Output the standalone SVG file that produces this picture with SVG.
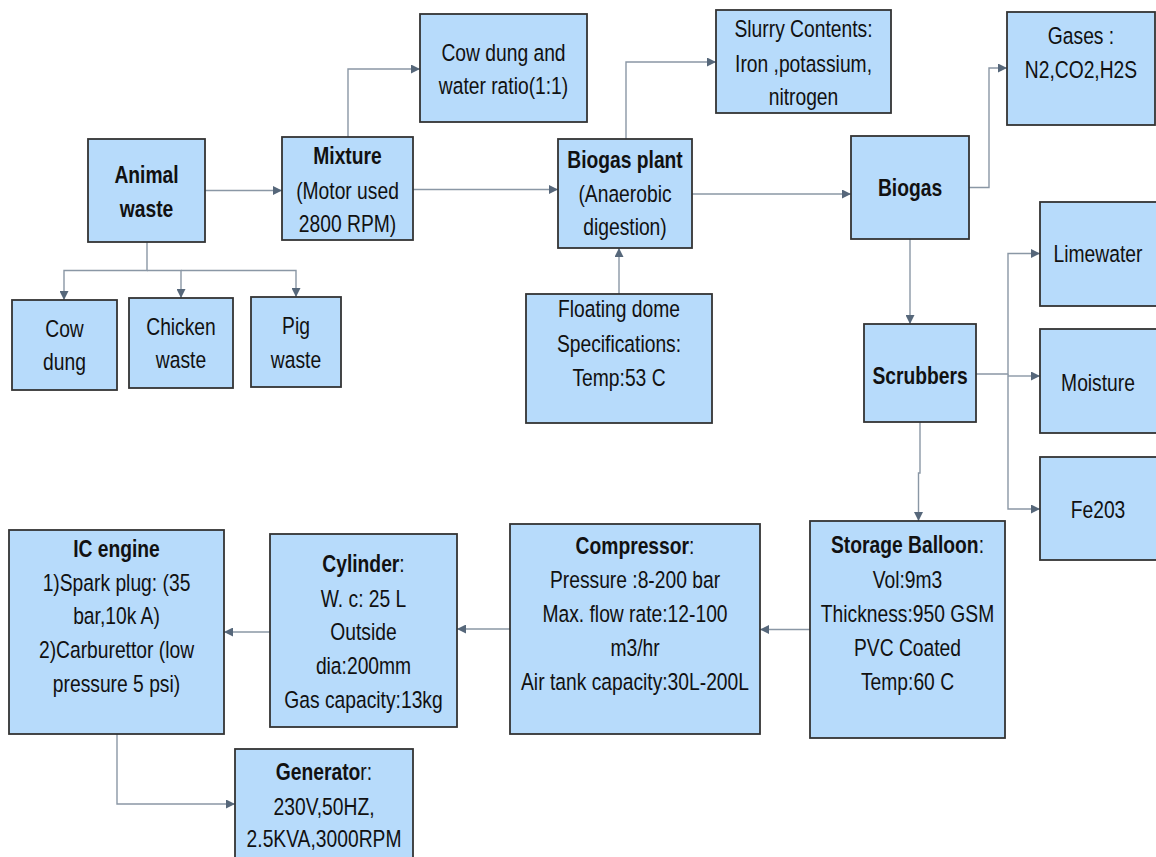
<svg xmlns="http://www.w3.org/2000/svg" width="1156" height="857" viewBox="0 0 1156 857">
<style>
.box{fill:#b7dbfb;stroke:#333333;stroke-width:1.8}
.t{font-family:"Liberation Sans",Arial,sans-serif;font-size:23.5px;fill:#111;text-anchor:middle}
.b{font-weight:bold}
.c{fill:none;stroke:#8a97a5;stroke-width:1.4}
</style>
<defs>
<marker id="ah" viewBox="0 0 10 10" refX="10" refY="5" markerWidth="9" markerHeight="9" markerUnits="userSpaceOnUse" orient="auto">
<path d="M0,0 L10,5 L0,10 z" fill="#56677a"/>
</marker>
</defs>
<rect width="1156" height="857" fill="#ffffff"/>
<g id="connectors">
<path class="c" d="M205,190.5 H282" marker-end="url(#ah)"/>
<path class="c" d="M147,242 V270.5 H64 V300" marker-end="url(#ah)"/>
<path class="c" d="M147,270.5 H181 V298" marker-end="url(#ah)"/>
<path class="c" d="M181,270.5 H296 V297" marker-end="url(#ah)"/>
<path class="c" d="M348,137 V69 H420" marker-end="url(#ah)"/>
<path class="c" d="M413,189.5 H558" marker-end="url(#ah)"/>
<path class="c" d="M626,139 V62 H716" marker-end="url(#ah)"/>
<path class="c" d="M619,294 V248" marker-end="url(#ah)"/>
<path class="c" d="M692,194 H851" marker-end="url(#ah)"/>
<path class="c" d="M969,187.5 H989 V68 H1007" marker-end="url(#ah)"/>
<path class="c" d="M910,239 V324" marker-end="url(#ah)"/>
<path class="c" d="M976,374 H1008 V253.5 H1040" marker-end="url(#ah)"/>
<path class="c" d="M1008,376 H1040" marker-end="url(#ah)"/>
<path class="c" d="M1008,374 V509 H1040" marker-end="url(#ah)"/>
<path class="c" d="M920,422 V473 H918.5 V521" marker-end="url(#ah)"/>
<path class="c" d="M810,629.5 H760" marker-end="url(#ah)"/>
<path class="c" d="M510,629 H457" marker-end="url(#ah)"/>
<path class="c" d="M275,632 H224" marker-end="url(#ah)"/>
<path class="c" d="M117,734 V804 H235" marker-end="url(#ah)"/>
</g>
<g id="animal-waste"><rect class="box" x="88" y="139" width="117" height="103"/>
<g transform="translate(146.5 0) scale(0.82 1)"><text class="t b" x="0" y="183">Animal</text><text class="t b" x="0" y="217">waste</text></g></g>
<g id="mixture"><rect class="box" x="282" y="137" width="131" height="103"/>
<g transform="translate(347.5 0) scale(0.82 1)"><text class="t b" x="0" y="164">Mixture</text><text class="t" x="0" y="199">(Motor used</text><text class="t" x="0" y="232">2800 RPM)</text></g></g>
<g id="cow-dung"><rect class="box" x="12" y="300" width="105" height="90"/>
<g transform="translate(64.5 0) scale(0.82 1)"><text class="t" x="0" y="337">Cow</text><text class="t" x="0" y="370">dung</text></g></g>
<g id="chicken-waste"><rect class="box" x="129" y="298" width="104" height="90"/>
<g transform="translate(181 0) scale(0.82 1)"><text class="t" x="0" y="335">Chicken</text><text class="t" x="0" y="368">waste</text></g></g>
<g id="pig-waste"><rect class="box" x="251" y="297" width="90" height="90"/>
<g transform="translate(296 0) scale(0.82 1)"><text class="t" x="0" y="334">Pig</text><text class="t" x="0" y="368">waste</text></g></g>
<g id="cow-dung-water"><rect class="box" x="420" y="14" width="167" height="108"/>
<g transform="translate(503.5 0) scale(0.82 1)"><text class="t" x="0" y="61">Cow dung and</text><text class="t" x="0" y="94">water ratio(1:1)</text></g></g>
<g id="biogas-plant"><rect class="box" x="558" y="139" width="134" height="109"/>
<g transform="translate(625 0) scale(0.82 1)"><text class="t b" x="0" y="168">Biogas plant</text><text class="t" x="0" y="202">(Anaerobic</text><text class="t" x="0" y="235">digestion)</text></g></g>
<g id="floating-dome"><rect class="box" x="526" y="294" width="186" height="129"/>
<g transform="translate(619 0) scale(0.82 1)"><text class="t" x="0" y="317">Floating dome</text><text class="t" x="0" y="352">Specifications:</text><text class="t" x="0" y="386">Temp:53 C</text></g></g>
<g id="slurry"><rect class="box" x="716" y="10" width="175" height="103"/>
<g transform="translate(803.5 0) scale(0.82 1)"><text class="t" x="0" y="37.5">Slurry Contents:</text><text class="t" x="0" y="72">Iron ,potassium,</text><text class="t" x="0" y="105">nitrogen</text></g></g>
<g id="gases"><rect class="box" x="1007" y="12" width="148" height="113"/>
<g transform="translate(1081 0) scale(0.82 1)"><text class="t" x="0" y="44">Gases :</text><text class="t" x="0" y="78">N2,CO2,H2S</text></g></g>
<g id="biogas"><rect class="box" x="851" y="136" width="118" height="103"/>
<g transform="translate(910 0) scale(0.82 1)"><text class="t b" x="0" y="196">Biogas</text></g></g>
<g id="scrubbers"><rect class="box" x="864" y="324" width="112" height="98"/>
<g transform="translate(920 0) scale(0.82 1)"><text class="t b" x="0" y="384">Scrubbers</text></g></g>
<g id="limewater"><rect class="box" x="1040" y="202" width="120" height="104"/>
<g transform="translate(1098 0) scale(0.82 1)"><text class="t" x="0" y="262">Limewater</text></g></g>
<g id="moisture"><rect class="box" x="1040" y="329" width="120" height="104"/>
<g transform="translate(1098 0) scale(0.82 1)"><text class="t" x="0" y="391">Moisture</text></g></g>
<g id="fe203"><rect class="box" x="1040" y="457" width="120" height="103"/>
<g transform="translate(1098 0) scale(0.82 1)"><text class="t" x="0" y="518">Fe203</text></g></g>
<g id="storage-balloon"><rect class="box" x="810" y="521" width="195" height="217"/>
<g transform="translate(907.5 0) scale(0.82 1)"><text class="t" x="0" y="553"><tspan class="b">Storage Balloon</tspan>:</text>
<text class="t" x="0" y="588">Vol:9m3</text><text class="t" x="0" y="622">Thickness:950 GSM</text><text class="t" x="0" y="656">PVC Coated</text><text class="t" x="0" y="690">Temp:60 C</text></g></g>
<g id="compressor"><rect class="box" x="510" y="524" width="250" height="210"/>
<g transform="translate(635 0) scale(0.82 1)"><text class="t" x="0" y="554"><tspan class="b">Compressor</tspan>:</text>
<text class="t" x="0" y="588">Pressure :8-200 bar</text><text class="t" x="0" y="622">Max. flow rate:12-100</text><text class="t" x="0" y="656">m3/hr</text><text class="t" x="0" y="690">Air tank capacity:30L-200L</text></g></g>
<g id="cylinder"><rect class="box" x="270" y="534" width="187" height="193"/>
<g transform="translate(363.5 0) scale(0.82 1)"><text class="t" x="0" y="572"><tspan class="b">Cylinder</tspan>:</text>
<text class="t" x="0" y="607">W. c: 25 L</text><text class="t" x="0" y="640">Outside</text><text class="t" x="0" y="674">dia:200mm</text><text class="t" x="0" y="708">Gas capacity:13kg</text></g></g>
<g id="ic-engine"><rect class="box" x="9" y="530" width="215" height="204"/>
<g transform="translate(116.5 0) scale(0.82 1)"><text class="t b" x="0" y="557">IC engine</text>
<text class="t" x="0" y="591">1)Spark plug: (35</text><text class="t" x="0" y="624">bar,10k A)</text><text class="t" x="0" y="658">2)Carburettor (low</text><text class="t" x="0" y="692">pressure 5 psi)</text></g></g>
<g id="generator"><rect class="box" x="235" y="749" width="178" height="120"/>
<g transform="translate(324 0) scale(0.82 1)"><text class="t" x="0" y="780"><tspan class="b">Generato</tspan>r:</text>
<text class="t" x="0" y="815">230V,50HZ,</text><text class="t" x="0" y="847">2.5KVA,3000RPM</text></g></g>
</svg>
